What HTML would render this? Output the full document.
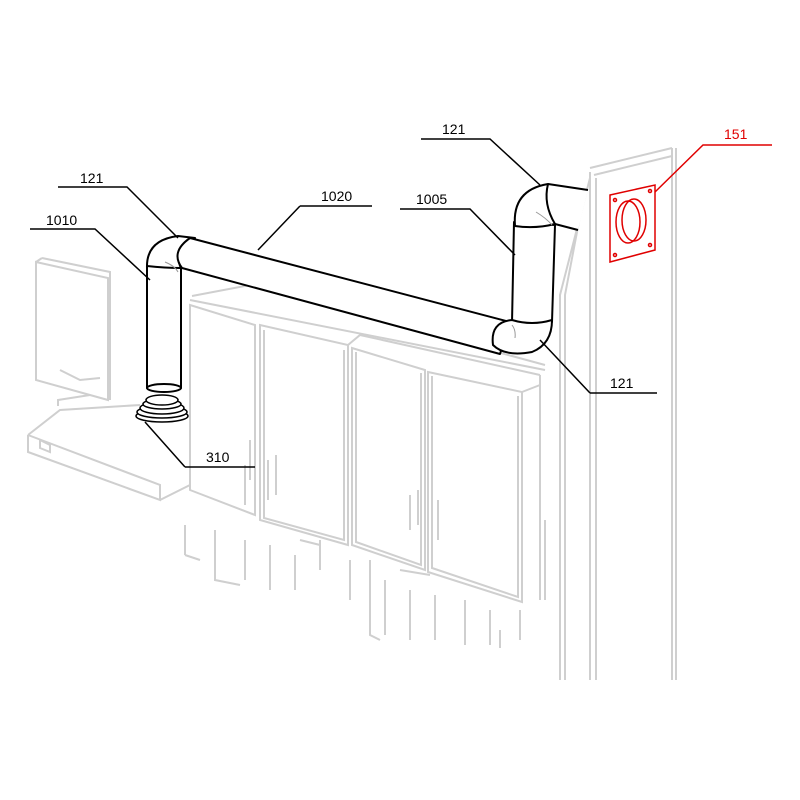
<!DOCTYPE html>
<html><head><style>body{margin:0;background:#fff}svg{display:block}text{font-family:"Liberation Sans",sans-serif;font-size:14px}</style></head><body>
<svg width="800" height="800" viewBox="0 0 800 800" xmlns="http://www.w3.org/2000/svg">
<g fill="none" stroke="#cfcfcf" stroke-width="2">
<path d="M590 168 L672 148 M594 175 L672 156 M590 172 L590 680 M596 178 L596 680 M672 148 L672 680 M676 148 L676 680"/>
<path d="M590 178 L560 295 L560 680 M585 190 L565 295 L565 680"/>
<path d="M36 262 L36 380 L108 400 L108 278 Z M42 258 L110 272 L110 400 M36 262 L42 258"/>
<path d="M60 370 L80 380 L100 378"/>
<path d="M28 435 L60 410 L140 405 M28 435 L28 452 L160 500 L160 485 L28 435 M160 500 L190 485 M50 445 L40 440 L40 448 L50 452 Z M58 406 L58 400 L90 395"/>
<path d="M190 300 L545 370 M190 305 L190 490 L255 515 L255 325 Z M192 296 L250 285 L545 365"/>
<path d="M260 325 L260 520 L348 545 L348 345 Z M264 330 L264 518 L344 540 L344 350"/>
<path d="M352 348 L352 545 L425 570 L425 370 Z M356 352 L356 542 L421 565 L421 373"/>
<path d="M428 372 L428 572 L522 602 L522 392 Z M432 376 L432 568 L518 597 L518 396"/>
<path d="M348 345 L360 335 L540 375 M540 375 L540 600 M522 392 L540 385"/>
<path d="M268 460 L268 500 M276 455 L276 495 M410 495 L410 530 M418 490 L418 525 M438 500 L438 540 M432 520 L432 560 M245 465 L245 505 M250 440 L250 480"/>
<path d="M185 525 L185 555 M215 530 L215 580 L240 585 M245 540 L245 580 M270 545 L270 590 M295 555 L295 590 M320 540 L320 570 M185 555 L200 560 M350 560 L350 600 M370 560 L370 635 L380 640 M385 580 L385 635 M410 590 L410 640 M435 595 L435 640 M465 600 L465 645 M490 610 L490 645 M520 610 L520 640 M500 630 L500 648 M545 520 L545 600 M300 540 L320 545 M400 570 L430 575"/>
</g>
<g fill="none" stroke="#e00000" stroke-width="1.5">
<path d="M610 195 L655 185 L655 250 L610 262 Z"/>
<ellipse cx="628" cy="222" rx="12" ry="21"/>
<ellipse cx="634" cy="220" rx="12" ry="21"/>
<circle cx="615" cy="200" r="1.5"/><circle cx="650" cy="191" r="1.5"/><circle cx="615" cy="255" r="1.5"/><circle cx="650" cy="245" r="1.5"/>
<path d="M655 192 L703 145 L772 145"/>
</g>
<text x="724" y="139" fill="#e00000">151</text>
<g fill="#fff" stroke="#000" stroke-width="2" stroke-linejoin="round">
<path d="M147 265 L147 388 Q164 394 181 388 L181 268 Z"/>
<ellipse cx="164" cy="388" rx="17" ry="4"/>
<path d="M147 268 Q146 240 178 236 L195 238 Q172 250 181 268 Q165 268 147 266 Z"/>
<path d="M190 238 L510 322 L500 354 L182 268 Q170 252 190 238 Z"/>
<path d="M514 222 L512 323 Q532 328 552 322 L555 225 Z"/>
<path d="M512 320 Q490 322 493 345 Q505 357 532 352 Q552 344 552 320 Q532 326 512 320 Z"/>
<path d="M548 184 L588 190 L578 230 L555 224 Q543 204 548 184 Z" stroke="none"/>
<path d="M548 184 L588 190 M578 230 L555 224" fill="none"/>
<path d="M515 226 Q512 190 548 184 Q543 204 555 224 Q535 229 515 226 Z"/>
</g>
<g fill="none" stroke="#999" stroke-width="1">
<path d="M165 262 Q175 266 178 272 M536 212 Q546 218 552 225 M512 325 Q516 330 515 338"/>
</g>
<g fill="#fff" stroke="#000" stroke-width="1.5">
<ellipse cx="162" cy="416" rx="26" ry="6"/><ellipse cx="162" cy="412" rx="25" ry="6"/><ellipse cx="162" cy="408" rx="22" ry="6"/><ellipse cx="162" cy="404" rx="19" ry="5"/><ellipse cx="162" cy="400" rx="16" ry="5"/>
</g>
<g fill="none" stroke="#000" stroke-width="1.5">
<path d="M58 187 L127 187 L178 238"/>
<path d="M30 229 L95 229 L150 280"/>
<path d="M300 206 L372 206 M300 206 L258 250"/>
<path d="M421 139 L490 139 L540 185"/>
<path d="M400 209 L470 209 L515 255"/>
<path d="M590 393 L657 393 M590 393 L540 340"/>
<path d="M185 467 L255 467 M185 467 L145 422"/>
</g>
<g fill="#000">
<text x="80" y="183">121</text>
<text x="46" y="225">1010</text>
<text x="321" y="201">1020</text>
<text x="442" y="134">121</text>
<text x="416" y="204">1005</text>
<text x="610" y="388">121</text>
<text x="206" y="462">310</text>
</g>
</svg>
</body></html>
